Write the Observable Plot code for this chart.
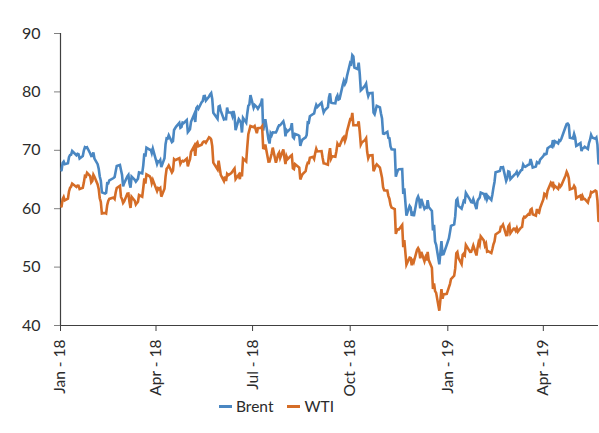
<!DOCTYPE html>
<html><head><meta charset="utf-8">
<script src="https://cdn.jsdelivr.net/npm/d3@7"></script>
<script src="https://cdn.jsdelivr.net/npm/@observablehq/plot@0.6"></script>
<style>
body{margin:0;background:#fff;font-family:Lato,"Open Sans",sans-serif;}
#wrap{position:relative;width:599px;height:433px;overflow:hidden;background:#fff}
#topline{position:absolute;left:7px;right:0;top:2px;height:0;border-top:1.5px solid #8c8c8c}
#chart{position:absolute;left:0;top:0}
#legend{position:absolute;top:397px;left:219px;font-size:15.5px;color:#2b2b2b;display:flex;align-items:center;white-space:nowrap}
.sw{display:inline-block;width:13px;height:3px;margin-right:4px}
.item{display:flex;align-items:center;margin-right:14px}
</style>
</head><body>
<div id="wrap"><div id="topline"></div><div id="chart"></div><div id="legend"></div></div>
<script>
const seriesNames = ["Brent", "WTI"];
const seriesColors = ["#4a87c2", "#d56d27"];
const yTicks = [40, 50, 60, 70, 80, 90];
const xTickDates = ["2018-01-01","2018-04-01","2018-07-01","2018-10-01","2019-01-01","2019-04-01"];
const xTickLabels = ["Jan - 18","Apr - 18","Jul - 18","Oct - 18","Jan - 19","Apr - 19"];
const xStart = "2018-01-01", xEnd = "2019-05-23";

const dates = [
"2018-01-02","2018-01-03","2018-01-04","2018-01-05","2018-01-08","2018-01-09","2018-01-10","2018-01-11","2018-01-12","2018-01-16","2018-01-17","2018-01-18","2018-01-19","2018-01-22","2018-01-23","2018-01-24","2018-01-25","2018-01-26","2018-01-29","2018-01-30","2018-01-31",
"2018-02-01","2018-02-02","2018-02-05","2018-02-06","2018-02-07","2018-02-08","2018-02-09","2018-02-12","2018-02-13","2018-02-14","2018-02-15","2018-02-16","2018-02-20","2018-02-21","2018-02-22","2018-02-23","2018-02-26","2018-02-27","2018-02-28",
"2018-03-01","2018-03-02","2018-03-05","2018-03-06","2018-03-07","2018-03-08","2018-03-09","2018-03-12","2018-03-13","2018-03-14","2018-03-15","2018-03-16","2018-03-19","2018-03-20","2018-03-21","2018-03-22","2018-03-23","2018-03-26","2018-03-27","2018-03-28","2018-03-29",
"2018-04-02","2018-04-03","2018-04-04","2018-04-05","2018-04-06","2018-04-09","2018-04-10","2018-04-11","2018-04-12","2018-04-13","2018-04-16","2018-04-17","2018-04-18","2018-04-19","2018-04-20","2018-04-23","2018-04-24","2018-04-25","2018-04-26","2018-04-27","2018-04-30",
"2018-05-01","2018-05-02","2018-05-03","2018-05-04","2018-05-07","2018-05-08","2018-05-09","2018-05-10","2018-05-11","2018-05-14","2018-05-15","2018-05-16","2018-05-17","2018-05-18","2018-05-21","2018-05-22","2018-05-23","2018-05-24","2018-05-25","2018-05-29","2018-05-30","2018-05-31",
"2018-06-01","2018-06-04","2018-06-05","2018-06-06","2018-06-07","2018-06-08","2018-06-11","2018-06-12","2018-06-13","2018-06-14","2018-06-15","2018-06-18","2018-06-19","2018-06-20","2018-06-21","2018-06-22","2018-06-25","2018-06-26","2018-06-27","2018-06-28","2018-06-29",
"2018-07-02","2018-07-03","2018-07-05","2018-07-06","2018-07-09","2018-07-10","2018-07-11","2018-07-12","2018-07-13","2018-07-16","2018-07-17","2018-07-18","2018-07-19","2018-07-20","2018-07-23","2018-07-24","2018-07-25","2018-07-26","2018-07-27","2018-07-30","2018-07-31",
"2018-08-01","2018-08-02","2018-08-03","2018-08-06","2018-08-07","2018-08-08","2018-08-09","2018-08-10","2018-08-13","2018-08-14","2018-08-15","2018-08-16","2018-08-17","2018-08-20","2018-08-21","2018-08-22","2018-08-23","2018-08-24","2018-08-27","2018-08-28","2018-08-29","2018-08-30","2018-08-31",
"2018-09-04","2018-09-05","2018-09-06","2018-09-07","2018-09-10","2018-09-11","2018-09-12","2018-09-13","2018-09-14","2018-09-17","2018-09-18","2018-09-19","2018-09-20","2018-09-21","2018-09-24","2018-09-25","2018-09-26","2018-09-27","2018-09-28",
"2018-10-01","2018-10-02","2018-10-03","2018-10-04","2018-10-05","2018-10-08","2018-10-09","2018-10-10","2018-10-11","2018-10-12","2018-10-15","2018-10-16","2018-10-17","2018-10-18","2018-10-19","2018-10-22","2018-10-23","2018-10-24","2018-10-25","2018-10-26","2018-10-29","2018-10-30","2018-10-31",
"2018-11-01","2018-11-02","2018-11-05","2018-11-06","2018-11-07","2018-11-08","2018-11-09","2018-11-12","2018-11-13","2018-11-14","2018-11-15","2018-11-16","2018-11-19","2018-11-20","2018-11-21","2018-11-23","2018-11-26","2018-11-27","2018-11-28","2018-11-29","2018-11-30",
"2018-12-03","2018-12-04","2018-12-05","2018-12-06","2018-12-07","2018-12-10","2018-12-11","2018-12-12","2018-12-13","2018-12-14","2018-12-17","2018-12-18","2018-12-19","2018-12-20","2018-12-21","2018-12-24","2018-12-26","2018-12-27","2018-12-28","2018-12-31",
"2019-01-02","2019-01-03","2019-01-04","2019-01-07","2019-01-08","2019-01-09","2019-01-10","2019-01-11","2019-01-14","2019-01-15","2019-01-16","2019-01-17","2019-01-18","2019-01-22","2019-01-23","2019-01-24","2019-01-25","2019-01-28","2019-01-29","2019-01-30","2019-01-31",
"2019-02-01","2019-02-04","2019-02-05","2019-02-06","2019-02-07","2019-02-08","2019-02-11","2019-02-12","2019-02-13","2019-02-14","2019-02-15","2019-02-19","2019-02-20","2019-02-21","2019-02-22","2019-02-25","2019-02-26","2019-02-27","2019-02-28",
"2019-03-01","2019-03-04","2019-03-05","2019-03-06","2019-03-07","2019-03-08","2019-03-11","2019-03-12","2019-03-13","2019-03-14","2019-03-15","2019-03-18","2019-03-19","2019-03-20","2019-03-21","2019-03-22","2019-03-25","2019-03-26","2019-03-27","2019-03-28","2019-03-29",
"2019-04-01","2019-04-02","2019-04-03","2019-04-04","2019-04-05","2019-04-08","2019-04-09","2019-04-10","2019-04-11","2019-04-12","2019-04-15","2019-04-16","2019-04-17","2019-04-18","2019-04-22","2019-04-23","2019-04-24","2019-04-25","2019-04-26","2019-04-29","2019-04-30",
"2019-05-01","2019-05-02","2019-05-03","2019-05-06","2019-05-07","2019-05-08","2019-05-09","2019-05-10","2019-05-13","2019-05-14","2019-05-15","2019-05-16","2019-05-17","2019-05-20","2019-05-21","2019-05-22","2019-05-23"
];

const brent = [
66.57,67.84,68.07,67.62,67.78,68.82,69.20,69.26,69.87,69.15,69.38,69.31,68.61,69.03,69.96,70.53,70.42,70.52,69.46,69.02,69.05,
69.65,68.58,67.62,66.86,65.51,64.81,62.79,62.59,62.72,64.36,64.33,64.84,65.25,65.42,66.39,67.31,67.50,66.63,65.78,
63.83,64.37,65.54,65.79,64.34,63.61,65.49,64.95,64.64,64.89,65.12,66.21,66.05,67.42,69.47,68.91,70.45,70.12,70.11,69.53,70.27,
67.64,68.12,68.02,68.33,67.11,68.65,71.04,72.06,72.02,72.58,71.42,71.58,73.48,73.78,74.06,74.71,73.86,74.00,74.74,74.64,75.17,
73.13,73.36,73.62,74.87,76.17,74.85,77.21,77.47,77.12,78.23,78.43,79.28,79.30,78.51,79.22,79.57,79.80,78.79,76.44,75.39,77.50,77.59,
76.79,75.29,75.38,75.36,77.32,76.46,76.46,75.88,76.74,75.94,73.44,75.34,75.08,74.74,73.05,75.55,74.73,76.31,77.62,77.85,79.44,
77.30,77.76,77.39,77.11,78.07,78.86,73.40,74.45,75.33,71.84,71.16,72.90,72.58,73.07,73.06,73.44,73.93,74.29,74.29,74.97,74.25,
72.39,73.45,73.21,73.75,74.65,72.28,72.07,72.81,72.61,72.46,70.76,71.43,71.83,72.21,72.63,74.78,74.73,75.82,76.21,76.31,77.14,77.77,77.42,
78.17,77.27,76.50,76.83,77.37,79.06,79.74,78.18,78.09,78.05,79.03,79.40,78.70,78.80,81.20,81.87,81.34,81.72,82.72,
84.98,84.80,86.29,86.07,84.16,83.91,85.00,83.09,80.26,80.43,81.06,81.41,80.05,79.29,79.78,79.83,76.44,76.17,76.89,77.62,77.34,76.31,75.47,
72.89,72.83,73.17,72.13,72.07,70.65,70.18,70.12,65.47,66.12,66.62,66.76,66.79,62.53,63.48,58.80,60.48,60.21,58.76,59.51,58.71,
61.69,62.08,61.56,60.06,61.67,59.97,60.20,60.15,61.45,60.28,59.61,56.26,57.24,54.35,53.82,50.47,54.47,52.16,52.20,53.80,
54.91,55.95,57.06,57.33,58.72,61.44,61.68,60.48,59.99,60.64,61.32,61.18,62.70,61.50,61.14,61.09,61.64,59.93,61.32,61.65,61.89,
62.75,62.51,61.98,62.69,61.63,62.10,61.51,62.42,63.61,64.57,66.25,66.45,67.08,67.07,67.12,64.76,65.21,66.39,66.31,
65.07,65.67,65.86,65.99,66.30,65.74,66.58,66.67,67.55,67.23,67.16,67.54,67.61,68.50,67.86,67.03,67.21,67.97,67.83,67.82,68.39,
69.01,69.37,69.31,69.40,70.34,70.73,70.61,71.73,71.02,71.55,71.18,71.72,71.62,71.97,74.04,74.51,74.57,74.35,72.15,72.04,72.80,
72.18,70.75,70.85,71.24,69.88,70.37,70.39,70.62,70.23,71.24,71.77,72.62,72.21,71.97,72.18,70.99,67.76
];

const wti = [
60.37,61.63,62.01,61.44,61.73,62.96,63.57,63.80,64.30,63.73,63.97,63.95,63.37,63.57,64.47,65.61,65.51,66.14,65.56,64.50,64.73,
65.80,65.45,64.15,63.39,61.79,61.15,59.20,59.29,59.19,60.60,61.34,61.68,61.90,61.68,62.77,63.55,63.91,62.01,61.64,
60.99,61.25,62.57,62.60,61.15,60.12,62.04,61.36,60.71,60.96,61.19,62.34,62.06,63.54,65.17,64.30,65.88,65.55,65.25,64.38,64.94,
63.01,63.51,63.37,63.54,62.06,63.42,65.51,66.82,67.07,67.39,66.22,66.52,68.47,68.29,68.38,68.64,67.70,68.05,68.19,68.10,68.57,
67.25,67.93,68.43,69.72,70.73,69.06,71.14,71.36,70.70,70.96,71.31,71.49,71.49,71.28,72.24,72.13,71.84,70.71,67.88,66.73,68.21,67.04,
65.81,64.75,65.52,64.73,65.95,65.74,66.10,66.36,66.64,66.89,65.06,65.85,65.07,66.22,65.54,68.58,68.08,70.53,72.76,73.45,74.15,
73.94,74.14,72.94,73.80,73.85,74.11,70.38,70.33,71.01,68.06,68.08,68.76,69.46,70.46,67.89,68.52,69.30,69.61,68.69,70.13,68.76,
67.66,68.96,68.49,69.01,69.17,66.94,66.81,67.63,67.20,67.04,65.01,65.46,65.91,66.43,67.35,67.86,67.83,68.72,68.87,68.53,69.51,70.25,69.80,
69.87,68.72,67.77,67.75,67.54,69.25,70.37,68.59,68.99,68.91,69.85,71.12,70.80,70.78,72.08,72.28,71.57,72.12,73.25,
75.30,75.23,76.41,74.33,74.34,74.29,74.96,73.17,70.97,71.34,71.78,72.07,69.75,68.65,69.12,69.17,66.43,66.82,67.33,67.59,67.04,66.18,65.31,
63.69,63.14,63.10,62.21,61.67,60.67,60.19,59.93,55.69,56.25,56.46,56.46,57.20,53.43,54.63,50.42,51.63,51.56,50.29,51.45,50.93,
52.95,53.25,52.89,51.49,52.61,51.00,51.65,51.15,52.58,51.20,49.88,46.24,47.20,45.88,45.59,42.53,46.22,44.61,45.33,45.41,
46.54,47.09,47.96,48.52,49.78,52.36,52.59,51.59,50.51,52.11,52.31,52.07,53.80,52.61,52.62,53.13,53.69,51.99,53.31,54.23,53.79,
55.26,54.56,53.66,54.01,52.64,52.72,52.41,53.10,53.90,54.41,55.59,56.09,56.92,56.96,57.26,55.48,55.50,56.94,57.22,
55.80,56.59,56.56,56.22,56.66,56.07,56.79,56.87,58.26,58.61,58.52,59.09,59.03,59.83,59.98,59.04,58.82,59.94,59.41,59.30,60.14,
61.59,62.58,62.46,62.10,63.08,64.40,64.05,64.61,63.58,63.89,63.40,64.05,63.76,64.00,65.70,66.30,65.89,65.21,63.30,63.50,63.91,
63.60,61.81,61.94,62.25,61.40,62.12,61.70,61.66,61.04,61.78,62.02,62.87,62.76,63.10,62.99,61.42,57.91
];

const parse = s => new Date(s + "T00:00:00Z");
const rows = [];
dates.forEach((d, i) => {
  rows.push({date: parse(d), value: brent[i], series: seriesNames[0]});
  rows.push({date: parse(d), value: wti[i], series: seriesNames[1]});
});
const tickDates = xTickDates.map(parse);
const labelMap = new Map(tickDates.map((d, i) => [+d, xTickLabels[i]]));
const xDomain = [parse(xStart), parse(xEnd)];

const chart = Plot.plot({
  width: 599,
  height: 395,
  marginTop: 33,
  marginBottom: 70,
  marginLeft: 60,
  marginRight: 1,
  style: {fontFamily: "Lato, 'Open Sans', sans-serif", background: "#fff", color: "#2b2b2b", overflow: "visible"},
  x: {type: "utc", domain: xDomain},
  y: {domain: [40, 90]},
  color: {domain: seriesNames, range: seriesColors},
  marks: [
    Plot.axisY({ticks: yTicks, tickSize: 6, tickPadding: 14, fontSize: 16, stroke: "#808080", fill: "#2b2b2b", label: null, tickFormat: d => String(d)}),
    Plot.axisX({ticks: tickDates, tickFormat: d => labelMap.get(+d), tickRotate: -90, tickSize: 6, tickPadding: 8, fontSize: 15.5, stroke: "#404040", fill: "#2b2b2b", label: null}),
    Plot.ruleX([xDomain[0]], {stroke: "#404040", strokeWidth: 1.2}),
    Plot.ruleY([40], {stroke: "#404040", strokeWidth: 1.2}),
    Plot.line(rows, {x: "date", y: "value", z: "series", stroke: "series", strokeWidth: 2.6, strokeLinejoin: "miter", strokeMiterlimit: 4})
  ]
});
document.getElementById("chart").appendChild(chart);

const legend = document.getElementById("legend");
seriesNames.forEach((name, i) => {
  const item = document.createElement("span");
  item.className = "item";
  const sw = document.createElement("span");
  sw.className = "sw";
  sw.style.background = seriesColors[i];
  item.appendChild(sw);
  item.appendChild(document.createTextNode(name));
  legend.appendChild(item);
});
</script>
</body></html>
